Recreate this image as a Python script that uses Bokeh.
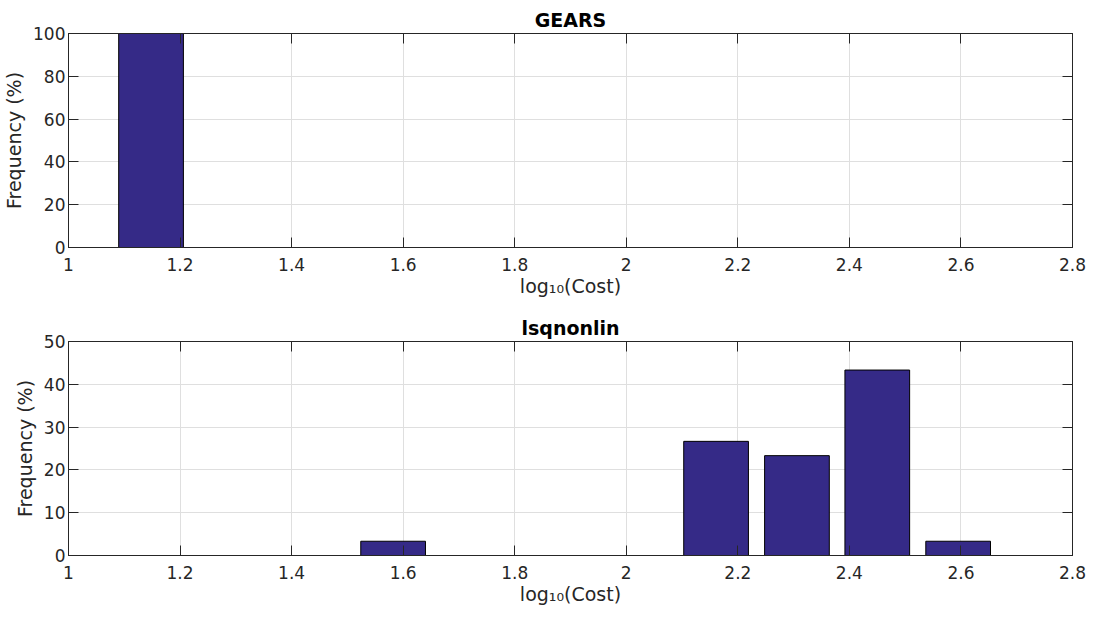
from bokeh.plotting import figure
from bokeh.models import Range1d, LinearAxis, FixedTicker, ColumnDataSource
from bokeh.layouts import column
from bokeh.embed import file_html
from bokeh.resources import INLINE

# ---- data ----
bin_centers = [1.148, 1.293, 1.437, 1.582, 1.727, 1.871, 2.016, 2.161, 2.306, 2.450, 2.595]
gears_freq = [100.0, 0, 0, 0, 0, 0, 0, 0, 0, 0, 0]
lsq_freq = [0, 0, 0, 3.33, 0, 0, 0, 26.67, 23.33, 43.33, 3.33]
bar_width = 0.116

x_ticks = [1.0, 1.2, 1.4, 1.6, 1.8, 2.0, 2.2, 2.4, 2.6, 2.8]
x_tick_labels = ["1", "1.2", "1.4", "1.6", "1.8", "2", "2.2", "2.4", "2.6", "2.8"]
gears_y_ticks = [0, 20, 40, 60, 80, 100]
lsq_y_ticks = [0, 10, 20, 30, 40, 50]

FONT = "DejaVu Sans"
AX = "#262626"
BAR = "#352A87"
GRID = "#DFDFDF"


def style_axis(ax, show_labels=True):
    ax.axis_line_color = AX
    ax.major_tick_line_color = AX
    ax.major_tick_in = 10
    ax.major_tick_out = 0
    ax.minor_tick_line_color = None
    ax.major_label_text_font = FONT
    ax.major_label_text_color = AX
    if show_labels:
        ax.major_label_text_font_size = "17px"
    else:
        ax.major_label_text_font_size = "0px"
        ax.major_label_text_color = None
        ax.major_label_standoff = 0


def panel(title, freqs, y_max, y_ticks, height, b_top, b_bottom):
    p = figure(width=1094, height=height,
               x_range=Range1d(1, 2.8), y_range=Range1d(0, y_max),
               output_backend="svg", toolbar_location=None,
               min_border_left=68, min_border_right=22,
               min_border_top=b_top, min_border_bottom=b_bottom,
               background_fill_color="white", border_fill_color="white")
    p.title.text = title
    p.title.text_font = FONT
    p.title.text_font_size = "19px"
    p.title.text_font_style = "bold"
    p.title.text_color = "black"
    p.title.align = "center"
    p.title.standoff = 6

    p.outline_line_color = AX
    p.outline_line_width = 1

    src = ColumnDataSource(dict(x=bin_centers, top=freqs))
    p.vbar(x="x", top="top", bottom=0, width=bar_width, source=src,
           fill_color=BAR, line_color="black", line_width=1)

    xt = FixedTicker(ticks=x_ticks)
    yt = FixedTicker(ticks=y_ticks)

    xa = p.xaxis[0]
    xa.ticker = xt
    xa.major_label_overrides = {t: l for t, l in zip(x_ticks, x_tick_labels)}
    style_axis(xa)
    xa.major_label_standoff = 10
    xa.axis_label = "log\u2081\u2080(Cost)"
    xa.axis_label_text_font = FONT
    xa.axis_label_text_font_size = "19px"
    xa.axis_label_text_font_style = "normal"
    xa.axis_label_text_color = AX
    xa.axis_label_standoff = 1

    ya = p.yaxis[0]
    ya.ticker = yt
    style_axis(ya)
    ya.major_label_standoff = 3
    ya.axis_label = "Frequency (%)"
    ya.axis_label_text_font = FONT
    ya.axis_label_text_font_size = "19px"
    ya.axis_label_text_font_style = "normal"
    ya.axis_label_text_color = AX
    ya.axis_label_standoff = 5

    top_ax = LinearAxis(ticker=xt)
    style_axis(top_ax, show_labels=False)
    p.add_layout(top_ax, "above")
    right_ax = LinearAxis(ticker=yt)
    style_axis(right_ax, show_labels=False)
    p.add_layout(right_ax, "right")

    p.xgrid.ticker = xt
    p.ygrid.ticker = yt
    p.xgrid.grid_line_color = GRID
    p.ygrid.grid_line_color = GRID
    return p


p1 = panel("GEARS", gears_freq, 100, gears_y_ticks, 300, 33, 53)
p2 = panel("lsqnonlin", lsq_freq, 50, lsq_y_ticks, 317, 41, 62)

layout = column(p1, p2, spacing=0)
open("out.html", "w").write(file_html(layout, INLINE))
